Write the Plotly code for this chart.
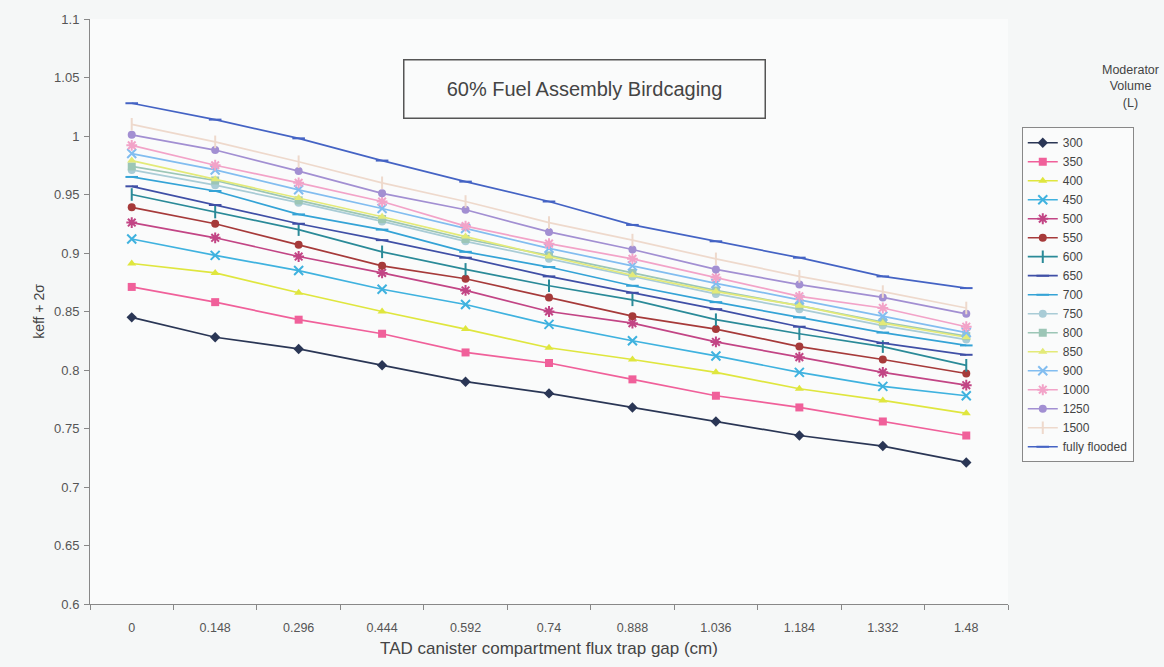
import plotly.graph_objects as go

gaps = ["0", "0.148", "0.296", "0.444", "0.592", "0.74", "0.888", "1.036", "1.184", "1.332", "1.48"]

v300 = [0.845, 0.828, 0.818, 0.804, 0.790, 0.780, 0.768, 0.756, 0.744, 0.735, 0.721]
v350 = [0.871, 0.858, 0.843, 0.831, 0.815, 0.806, 0.792, 0.778, 0.768, 0.756, 0.744]
v400 = [0.891, 0.883, 0.866, 0.850, 0.835, 0.819, 0.809, 0.798, 0.784, 0.774, 0.763]
v450 = [0.912, 0.898, 0.885, 0.869, 0.856, 0.839, 0.825, 0.812, 0.798, 0.786, 0.778]
v500 = [0.926, 0.913, 0.897, 0.883, 0.868, 0.850, 0.840, 0.824, 0.811, 0.798, 0.787]
v550 = [0.939, 0.925, 0.907, 0.889, 0.878, 0.862, 0.846, 0.835, 0.820, 0.809, 0.797]
v600 = [0.950, 0.935, 0.920, 0.901, 0.886, 0.872, 0.860, 0.843, 0.831, 0.820, 0.804]
v650 = [0.957, 0.941, 0.925, 0.911, 0.896, 0.880, 0.866, 0.852, 0.837, 0.823, 0.813]
v700 = [0.965, 0.953, 0.933, 0.920, 0.901, 0.888, 0.872, 0.858, 0.845, 0.832, 0.821]
v750 = [0.971, 0.958, 0.943, 0.927, 0.910, 0.895, 0.880, 0.865, 0.852, 0.838, 0.826]
v800 = [0.974, 0.962, 0.945, 0.929, 0.912, 0.898, 0.883, 0.868, 0.855, 0.841, 0.829]
v850 = [0.979, 0.963, 0.947, 0.931, 0.914, 0.897, 0.881, 0.867, 0.855, 0.840, 0.828]
v900 = [0.985, 0.971, 0.954, 0.938, 0.921, 0.904, 0.889, 0.874, 0.860, 0.846, 0.832]
v1000 = [0.992, 0.975, 0.960, 0.944, 0.923, 0.908, 0.895, 0.879, 0.863, 0.853, 0.837]
v1250 = [1.001, 0.988, 0.970, 0.951, 0.937, 0.918, 0.903, 0.886, 0.873, 0.862, 0.848]
v1500 = [1.010, 0.995, 0.978, 0.960, 0.944, 0.926, 0.911, 0.895, 0.880, 0.867, 0.853]
vflood = [1.028, 1.014, 0.998, 0.979, 0.961, 0.944, 0.924, 0.910, 0.896, 0.880, 0.870]

series_names = ["300", "350", "400", "450", "500", "550", "600", "650", "700",
                "750", "800", "850", "900", "1000", "1250", "1500", "fully flooded"]
series_values = [v300, v350, v400, v450, v500, v550, v600, v650, v700,
                 v750, v800, v850, v900, v1000, v1250, v1500, vflood]

colors = ["#2a3655", "#f0609a", "#dfe63e", "#3fb2df", "#c24585", "#a63a3a", "#2a8a98",
          "#3f4fa6", "#34a3d6", "#a9ccd6", "#9cc6b6", "#e3ea78", "#82bdf0", "#f2a3c8",
          "#a28fd2", "#eed9cc", "#4463c4"]
symbols = ["diamond", "square", "triangle-up", "x-thin", "asterisk", "circle", "line-ns",
           "line-ew", "line-ew", "circle", "square", "triangle-up", "x-thin", "asterisk",
           "circle", "line-ns", "line-ew"]

FONT = "Liberation Sans, Arial, sans-serif"

fig = go.Figure()
for name, vals, c, s in zip(series_names, series_values, colors, symbols):
    thin = s in ("x-thin", "asterisk", "line-ns", "line-ew")
    fig.add_trace(go.Scatter(
        x=gaps, y=vals, name=name, mode="lines+markers",
        line=dict(color=c, width=1.7),
        marker=dict(symbol=s, size=8 if not thin else 9, color=c,
                    line=dict(color=c, width=2 if thin else 0)),
    ))

fig.update_layout(
    width=1164, height=667,
    paper_bgcolor="#f5f7f7", plot_bgcolor="#fafbfb",
    margin=dict(l=90, r=156, t=19, b=63),
    font=dict(family=FONT, color="#444"),
    showlegend=True,
    legend=dict(x=1.015, y=0.815, xanchor="left", yanchor="top",
                bordercolor="#888", borderwidth=1, bgcolor="#fafbfb",
                font=dict(size=12, color="#444"), tracegroupgap=0,
                itemwidth=30),
    xaxis=dict(type="category", tickson="boundaries", range=[-0.5, 10.5],
               showline=True, linecolor="#888", linewidth=1, ticks="outside",
               ticklen=5, tickcolor="#888", showgrid=False, zeroline=False,
               tickfont=dict(size=12.5, color="#555"), ticklabelstandoff=12,
               title=dict(text="TAD canister compartment flux trap gap (cm)",
                          font=dict(size=17, color="#444"), standoff=8)),
    yaxis=dict(range=[0.6, 1.1], dtick=0.05, showline=True, linecolor="#888",
               linewidth=1, ticks="outside", ticklen=5, tickcolor="#888",
               showgrid=False, zeroline=False,
               tickfont=dict(size=13, color="#555"), ticklabelstandoff=2,
               title=dict(text="keff + 2σ", font=dict(size=14, color="#444"),
                          standoff=6)),
    annotations=[
        dict(text="60% Fuel Assembly Birdcaging", xref="paper", yref="paper",
             x=0.5387, y=0.880, xanchor="center", yanchor="middle", showarrow=False,
             font=dict(size=20, color="#444"), bordercolor="#555", borderwidth=1.5,
             borderpad=10, width=340, height=37, align="center", bgcolor="#fafbfb"),
        dict(text="Moderator<br>Volume<br>(L)", xref="paper", yref="paper",
             x=1.133, y=0.885, xanchor="center", yanchor="middle", showarrow=False,
             font=dict(size=12.5, color="#444")),
    ],
)

fig.write_html("out.html", config={"displayModeBar": False},
               post_script="document.body.style.margin='0px';")
